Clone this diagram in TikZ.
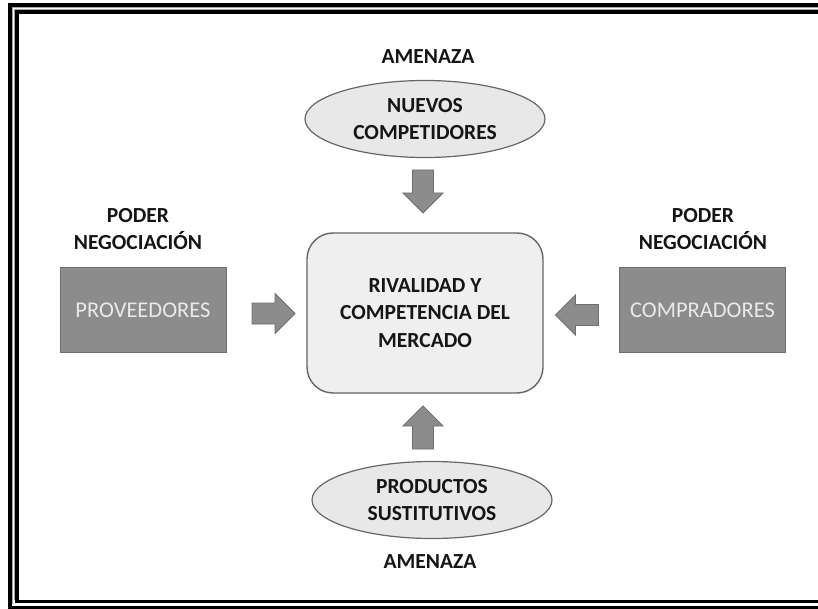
\documentclass[tikz,border=0pt]{standalone}
\usepackage{fontspec}
\setmainfont{Carlito}
\usetikzlibrary{shapes.geometric,calc}
\definecolor{boxgray}{HTML}{8C8C8C}
\definecolor{boxedge}{HTML}{6E6E6E}
\definecolor{ellfill}{HTML}{E8E8E8}
\definecolor{rectfill}{HTML}{EFEFEF}
\definecolor{edge}{HTML}{666666}
\definecolor{boxtext}{HTML}{EAEAEA}
\definecolor{txt}{HTML}{151515}
\tikzset{
  x=1pt, y=-1pt,
  bigbold/.style={font=\fontsize{21.5}{27.5}\selectfont\bfseries, text=txt, align=center},
  lbl/.style={bigbold, inner sep=0pt},
  threat/.style={ellipse, draw=edge, line width=1.2pt, fill=ellfill, minimum width=240pt, minimum height=77pt, inner sep=0pt, bigbold},
  power/.style={rectangle, draw=boxedge, line width=1pt, fill=boxgray, minimum width=166pt, minimum height=84pt,
                font=\fontsize{22.5}{27}\selectfont, text=boxtext},
  core/.style={rectangle, rounded corners=26pt, draw=edge, line width=1.4pt, fill=rectfill, minimum width=236pt, minimum height=160pt, bigbold},
  barrow/.pic={\filldraw[fill=boxgray, draw=boxedge, line width=0.8pt]
     (-21.5,-10.5) -- (1.5,-10.5) -- (1.5,-20) -- (21.5,0) -- (1.5,20) -- (1.5,10.5) -- (-21.5,10.5) -- cycle;},
  frameline/.style={line width=3.6pt, black},
}
\begin{document}
\begin{tikzpicture}
\useasboundingbox (0,0) rectangle (818,609);
% double frame (open on the right)
\draw[frameline] (818,4.8) -- (10,4.8) -- (10,607.3) -- (818,607.3);
\draw[frameline] (818,12) -- (17.2,12) -- (17.2,601.5) -- (818,601.5);
\draw[gray!70, line width=0.8pt] (818,7.3) -- (12.6,7.3) -- (12.6,603.5);
\draw[gray!70, line width=0.8pt] (818,9.6) -- (14.8,9.6) -- (14.8,599.5);

% core
\node[core] (rival) at (425,313) {RIVALIDAD Y\\COMPETENCIA DEL\\MERCADO};

% threats
\node[lbl] (am1) at (428,57) {AMENAZA};
\node[threat] (nuevos) at (425,119) {NUEVOS\\COMPETIDORES};
\node[threat] (prod) at (432,500) {PRODUCTOS\\SUSTITUTIVOS};
\node[lbl] (am2) at (430,562) {AMENAZA};

% bargaining power
\node[lbl] (pd1) at (138,229) {PODER\\NEGOCIACIÓN};
\node[power] (prov) at (143,310) {PROVEEDORES};
\node[lbl] (pd2) at (703,229) {PODER\\NEGOCIACIÓN};
\node[power] (comp) at (702.5,310) {COMPRADORES};

% block arrows
\pic[rotate=-90] at (423,191.5) {barrow};
\pic[rotate=90] at (423,427.5) {barrow};
\pic at (273.5,313.5) {barrow};
\pic[rotate=180] at (577,315) {barrow};
\end{tikzpicture}
\end{document}
